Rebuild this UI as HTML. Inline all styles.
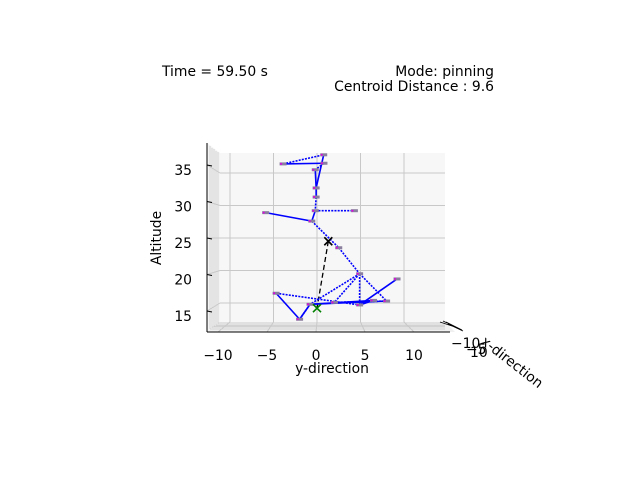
<!DOCTYPE html>
<html><head><meta charset="utf-8"><style>
body{margin:0;background:#fff;font-family:"Liberation Sans","DejaVu Sans",sans-serif}
svg text{font-family:"DejaVu Sans","Liberation Sans",sans-serif;font-size:13.9px;fill:#000}
</style></head><body>
<svg id="chart" width="640" height="480" viewBox="0 0 640 480" xmlns="http://www.w3.org/2000/svg">
<rect width="640" height="480" fill="#fff"/>
<g>
<polygon points="207,143 220,153 220,322 207,332" fill="#f4f4f4"/>
<polygon points="207,332 220,322 445,322 455,332" fill="#f0f0f0"/>
<path d="M210,146 L210,329 M212,148 L212,328 M214,149 L214,327 M216,151 L216,325 M218,152 L218,324" stroke="#c8c8c8" stroke-width="0.7" fill="none"/>
<path d="M210,329 L445,329 M212,327 L445,327 M214,326 L445,326 M216,325 L445,325 M218,323 L445,323" stroke="#c8c8c8" stroke-width="0.7" fill="none"/>
</g>
<rect x="220" y="153" width="225" height="169" fill="#f7f7f7"/>
<g id="grid" stroke="#c8c8c8" stroke-width="1"></g>
<g id="series"></g>
<line x1="207" y1="143" x2="207" y2="332" stroke="#000"/>
<line x1="207" y1="332" x2="450" y2="332" stroke="#000"/>
<path d="M440,322 L458,328 M443,321 L460,329 M446,322 L462,330 M448,324 L463,331" stroke="#000" stroke-width="0.8" fill="none"/>
<g id="ticks"></g>
<text x="451" y="348">−10</text>
<text x="466" y="354">−5</text>
<text x="470" y="357">10</text>
<text x="162" y="76">Time = 59.50 s</text>
<text x="494" y="76" text-anchor="end">Mode: pinning</text>
<text x="494" y="91" text-anchor="end">Centroid Distance : 9.6</text>
<text transform="translate(161,238) rotate(-90)" text-anchor="middle">Altitude</text>
<text x="332" y="373" text-anchor="middle">y-direction</text>
<text transform="translate(480,343) rotate(38)">x-direction</text>
</svg>
<script>
const yTicks=[-10,-5,0,5,10];
const zTicks=[15,20,25,30,35];
const nodeY=[0.77,-3.9,0.8,-0.2,-0.1,-0.1,-0.2,4.3,-5.9,-0.6,2.5,4.9,9.2,-4.7,-2.0,8.0,4.9,-0.8,2.0,6.5];
const nodeZ=[37.8,36.4,36.5,35.5,32.7,31.3,29.2,29.2,28.9,27.6,23.5,19.5,18.7,16.5,12.5,15.3,14.7,14.8,15.1,15.4];
const edgeFrom=[1,1,0,2,3,4,5,6,6,8,9,10,11,11,11,13,13,14,14,17,17,12,18,19,11];
const edgeTo=[2,0,4,3,4,5,6,7,9,9,10,11,15,16,17,14,16,17,17,15,19,16,15,16,18];
const edgeSolid=[1,0,1,0,1,1,0,0,1,1,0,0,0,0,0,1,0,1,0,1,1,1,0,1,0];
const centroid=[1.3,24.5];
const anchor=[0,14.2];
const sx=y=>317+y*8.7, sz=z=>303-(z-15)*6.5;
const fx=y=>316+y*9.8, fz=z=>311-(z-15)*7.3;
const NS="http://www.w3.org/2000/svg";
function mk(t,a,p){const e=document.createElementNS(NS,t);for(const k in a)e.setAttribute(k,a[k]);p.appendChild(e);return e;}
const grid=document.getElementById('grid'),ticks=document.getElementById('ticks'),ser=document.getElementById('series');
yTicks.forEach(v=>{
 const l=mk('line',{x1:sx(v),y1:153,x2:sx(v),y2:322},grid);
 
 
 const f=mk('line',{x1:sx(v),y1:322,x2:fx(v),y2:332},grid);
 
 
 const t=mk('text',{x:fx(v),y:360,'text-anchor':'middle'},ticks);t.textContent=v<0?'−'+(-v):v;
 
 
});
zTicks.forEach(v=>{
 const l=mk('line',{x1:220,y1:sz(v),x2:445,y2:sz(v)},grid);
 
 
 const s=mk('line',{x1:207,y1:fz(v),x2:220,y2:sz(v)},grid);
 
 
 const k=mk('line',{x1:207,y1:fz(v),x2:212,y2:fz(v)+1,stroke:'#000'},ticks);
 
 
 const t=mk('text',{x:192,y:fz(v)+10,'text-anchor':'end'},ticks);t.textContent=v;
 
 
});
const dl=mk('line',{x1:sx(centroid[0]),y1:sz(centroid[1]),x2:sx(anchor[0]),y2:sz(anchor[1]),stroke:'#000','stroke-width':1.3,'stroke-dasharray':'5,3'},ser);


edgeFrom.forEach((a,i)=>{
 const b=edgeTo[i];
 const l=mk('line',{x1:sx(nodeY[a]),y1:sz(nodeZ[a]),x2:sx(nodeY[b]),y2:sz(nodeZ[b]),stroke:'#0000ff','stroke-width':1.6},ser);
 if(!edgeSolid[i])l.setAttribute('stroke-dasharray','2,1.2');
 
 
});
nodeY.forEach((y,i)=>{
 const r=mk('rect',{x:sx(y)-3.5,y:sz(nodeZ[i])-1.5,width:7,height:3,fill:'#8a7f9e'},ser);
 
 
 const d=mk('circle',{cx:sx(y)-2,cy:sz(nodeZ[i]),r:1,fill:'#e000e0'},ser);
 
 
});
function cross(p,c,name){const x=sx(p[0]),y=sz(p[1]);
 const g=mk('path',{d:`M${x-4},${y-4}L${x+4},${y+4}M${x-4},${y+4}L${x+4},${y-4}`,stroke:c,'stroke-width':1.6},ser);
 
 }
cross(centroid,'#000','centroid-marker');
cross(anchor,'#008000','anchor-marker');
</script>
</body></html>
